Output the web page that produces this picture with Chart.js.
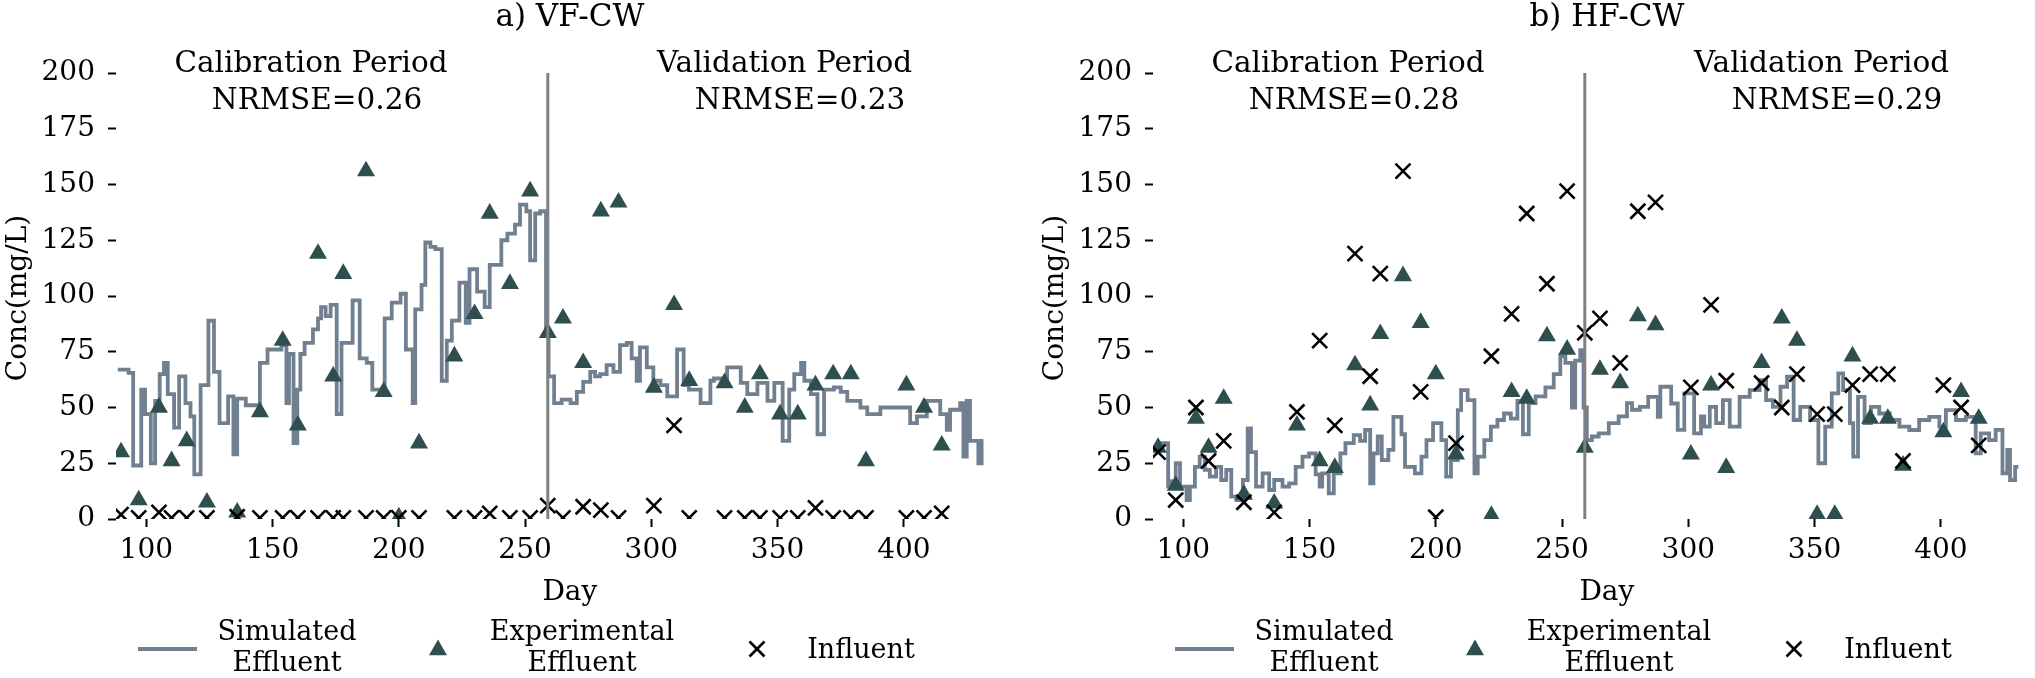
<!DOCTYPE html>
<html><head><meta charset="utf-8">
<script src="https://cdn.jsdelivr.net/npm/chart.js@4.4.1/dist/chart.umd.min.js"></script>
<style>
html,body{margin:0;padding:0;background:#fff;overflow:hidden;width:2035px;height:678px;}
canvas{position:absolute;top:0;}
#c1{left:0}
#c2{left:1037px}
</style></head><body>
<canvas id="c1" width="1037" height="678"></canvas>
<canvas id="c2" width="1037" height="678"></canvas>
<script>
// ---------------- data ----------------
const sampleDays = [90,97,105,110,116,124,136,145,154,160,168,174,178,187,194,200,208,222,230,236,244,252,259,265,273,280,287,301,309,315,329,337,343,351,358,365,372,379,385,401,408,415];
const vfInfluent = [2,0.5,3,0.5,0.5,0.5,1,0.5,0.5,0.5,0.5,0.5,0.5,0.5,0.5,0.5,0.5,0.5,0.5,2.5,0.5,0.5,6,0.5,5.5,4,0.5,6,42,0.5,0.5,0.5,0.5,0.5,0.5,5,0.5,0.5,0.5,0.5,0.5,2.5];
const vfEffluent = [30,8.5,50,26,35,7.5,3,48,80,42,119,64,110,156,57,0.8,34,73,92,137,105.5,147,83.5,90,70,138,142,59,96,62,61,50,65,47,47,60,65,65,26,60,50,33];
const hfInfluent = [30,8.5,50,26,35,7.5,3,48,80,42,119,64,110,156,57,0.8,34,73,92,137,105.5,147,83.5,90,70,138,142,59,96,62,61,50,65,47,47,60,65,65,26,60,50,33];
const hfEffluent = [32,15,45,32,54,11,7,42,26,23,69,51,83,109,88,65,29,1.5,57,54,82,76,32,67,61,91,87,29,60,23,70,90,80,2,2,73,45,45,24,39,57,45];

const vfSimDays = [88.7,93,94.8,98,99.5,101.8,103.5,105.3,107,108.5,111,113,115.5,117.5,119,121.5,124.6,126.8,129,132.4,134.5,136,139.4,145,148,153.5,155.5,156.5,158.3,159.8,161,162.7,166,168,169.2,171,173,175.4,177.3,181.7,184.5,187.3,189.5,194.4,197.2,200.7,202.8,205.5,206.5,209,210.5,212.5,214.5,217,219,221,224,226.5,228,231,234,236,240.6,243,246,248,250.5,252,254,256,258.3,259.3,261.5,264.5,268,270.5,273,275.8,277.7,279.7,282.3,285,287.6,290.3,292.2,294.2,295.5,298.2,300.8,303.6,306.3,310.2,312.8,314.9,319.5,323.4,324.8,330,335.4,338,342,346,348.7,352,354.6,356.6,359.3,360.6,363.2,365.8,368.4,372.3,375,377.6,382.8,385.5,390.7,402.5,405.2,409.1,414.4,417,418.3,422.3,423.6,424.9,426.2,429.5,430.8,431.5];
const vfSimValues = [67,65.5,24,58,47,25,53,65,70,56,41,64,52,46,20,60,89,66,43,55,29,54,51,70,76,78,52,74,34,58,74,79,85,90,95,91,96,47,79,98,72,70,58,90,97,101,76,52,94,105,124,122,121,62,80,89,106,88,112,102,95,114,125,128,132,141,138,116,137,138,83,64,52,53.5,52,57,61.5,66,64,65,69,66,78,79,72,62,77,68,62,60,55,76,60,58,52,62,63,68,61,56,61,53,61,35,58,65,70,62,56,38,58,59,57,53,50,47,50,43,46,53,47,40,49,52,28,53,35,25,35,35];

const hfSimDays = [89.5,94,95,97,98.7,101.3,102.6,104.6,106.5,108.5,110.5,113,115,117,119,121,123.6,125.5,126.8,128.8,131.4,134,136,139.3,141.9,144.5,147.2,149.8,152.4,154,155,157.6,159.6,162.2,164.2,167.5,170,172,174,175.3,177,178.6,181.2,183.2,186.4,187.8,191.7,194.3,196.3,198.9,202.2,204.1,206,208.7,210,212.6,215.3,216.6,219.2,221.8,224.4,227,229.7,232.3,234.5,236.8,239.5,243.4,246.7,249.3,251.3,253.9,255.2,257.2,258.5,259.8,261.8,264.5,268.5,272.4,275.7,277.7,280.8,284.1,287.9,288.9,293.2,295.8,298.4,302.3,305,306.3,308.5,311,313.7,316.4,320.3,324.3,328.2,330.8,333.5,336.5,339.1,341.7,344.3,348.2,351.5,354.2,356.8,359.4,361.3,364,365.3,367.2,369.8,372.3,375.6,379.7,383.6,387.5,391.4,395.4,399.4,402,406,409.9,413.8,415.8,419.1,421.7,424.4,426.3,427.4,429.4,430.7];
const hfSimValues = [34,14.5,17,25,14.5,8.5,14.5,23.4,28,22,19,23.4,17.5,22,10,8.5,17.5,40.6,30,14.5,20.5,13,17.5,14.5,16,23.4,28,29.4,20,14.5,20.5,11.5,20.5,29.4,34,37.6,35,40,16,29.4,37,26.4,31,45.8,38,23.4,20.5,28,35.4,43,35.4,19,26.4,48.8,57.8,53.3,20.5,28,35.4,41.4,44.4,47.3,45,53,38,52,55,59,65,73,70,50,71,75.7,50,35.4,37,38.4,43,46,52,49,50.3,54.8,45.8,59.3,51.8,40,56.3,38.4,46,41.4,50.3,43,53.3,41.4,54.8,57.8,62.3,53.3,50.3,59.3,63.8,44.4,50.3,44.4,25,41.4,56.3,65.3,57.8,43,28,54.8,43,50.3,47.3,44.4,41.4,39.9,44.4,45.8,41.4,48.8,44.4,45.8,29.4,38.4,35.4,40,20.5,31,17.5,23.4,23.4];

const xTickValues = [100,150,200,250,300,350,400];
const yTickValues = [0,25,50,75,100,125,150,175,200];
const splitDay = 259;
const panelTitles = ['a) VF-CW', 'b) HF-CW'];
const periodNames = ['Calibration Period', 'Validation Period'];
const nrmseVF = [0.26, 0.23];
const nrmseHF = [0.28, 0.29];
const legendLabels = [['Simulated','Effluent'], ['Experimental','Effluent'], ['Influent']];

// ---------------- styles ----------------
const SIM_COLOR = '#708090';
const TRI_COLOR = '#2F4F4F';
const X_COLOR = '#000000';
const VLINE_COLOR = '#808080';
const FONT = '"DejaVu Serif"';
const SIM_WIDTH = 3.8;
const TRI_R = 10.4;
const X_R = 10.6;

Chart.defaults.font.family = FONT;
Chart.defaults.color = '#000';

function pts(xs, ys) { return xs.map((x, i) => ({x: x, y: ys[i]})); }

const panelText = {
  id: 'panelText',
  afterDraw(chart, args, o) {
    const ctx = chart.ctx, a = chart.chartArea;
    const L = a.left, cx = (a.left + a.right) / 2;
    ctx.save();
    ctx.fillStyle = '#000';
    ctx.textAlign = 'center';
    ctx.textBaseline = 'alphabetic';
    ctx.font = '31px ' + FONT;
    ctx.fillText(o.title, cx, 26);
    ctx.font = '29.5px ' + FONT;
    ctx.fillText(periodNames[0], L + 195, 72);
    ctx.fillText('NRMSE=' + o.nrmse[0].toFixed(2), L + 201, 109);
    ctx.fillText(periodNames[1], L + 668.5, 72);
    ctx.fillText('NRMSE=' + o.nrmse[1].toFixed(2), L + 684, 109);
    ctx.font = '28px ' + FONT;
    ctx.fillText('Day', cx, 600);
    ctx.save();
    ctx.translate(L - 90, (a.top + a.bottom) / 2 + 2);
    ctx.rotate(-Math.PI / 2);
    ctx.fillText('Conc(mg/L)', 0, 0);
    ctx.restore();
    // legend
    const ly = 649;
    ctx.strokeStyle = SIM_COLOR; ctx.lineWidth = SIM_WIDTH;
    ctx.beginPath(); ctx.moveTo(L + 22, ly); ctx.lineTo(L + 81, ly); ctx.stroke();
    ctx.font = '27px ' + FONT;
    ctx.fillText(legendLabels[0][0], L + 171, 640);
    ctx.fillText(legendLabels[0][1], L + 171, 671);
    // triangle
    const r = TRI_R, tx = L + 322, ty = ly + 1;
    ctx.fillStyle = TRI_COLOR;
    ctx.beginPath();
    ctx.moveTo(tx, ty - r);
    ctx.lineTo(tx + r * Math.sin(2 * Math.PI / 3), ty - r * Math.cos(2 * Math.PI / 3));
    ctx.lineTo(tx + r * Math.sin(4 * Math.PI / 3), ty - r * Math.cos(4 * Math.PI / 3));
    ctx.closePath(); ctx.fill();
    ctx.fillStyle = '#000';
    ctx.fillText(legendLabels[1][0], L + 466, 640);
    ctx.fillText(legendLabels[1][1], L + 466, 671);
    // cross
    const h = X_R * Math.SQRT1_2, xx = L + 641;
    ctx.strokeStyle = X_COLOR; ctx.lineWidth = 2.6;
    ctx.beginPath();
    ctx.moveTo(xx - h, ly - h); ctx.lineTo(xx + h, ly + h);
    ctx.moveTo(xx + h, ly - h); ctx.lineTo(xx - h, ly + h);
    ctx.stroke();
    ctx.fillText(legendLabels[2][0], L + 745, 658);
    ctx.restore();
  }
};

function makeChart(id, simDays, simValues, effluent, influent, title, nrmse) {
  return new Chart(document.getElementById(id), {
    type: 'scatter',
    data: {
      datasets: [
        { type: 'line', data: [{x: splitDay, y: yTickValues[0]}, {x: splitDay, y: yTickValues[yTickValues.length - 1]}],
          borderColor: VLINE_COLOR, borderWidth: 3, pointRadius: 0, order: 0, clip: 0 },
        { type: 'scatter', data: pts(sampleDays, influent), pointStyle: 'crossRot', pointRadius: X_R,
          borderColor: X_COLOR, backgroundColor: X_COLOR, pointBorderWidth: 2.6, order: 1, clip: 0 },
        { type: 'scatter', data: pts(sampleDays, effluent), pointStyle: 'triangle', pointRadius: TRI_R,
          backgroundColor: TRI_COLOR, borderColor: TRI_COLOR, pointBorderWidth: 0, order: 2, clip: 0 },
        { type: 'line', data: pts(simDays, simValues), stepped: true, borderColor: SIM_COLOR, borderWidth: SIM_WIDTH,
          pointRadius: 0, fill: false, order: 3, clip: 0 }
      ]
    },
    options: {
      responsive: false, animation: false, devicePixelRatio: 1,
      layout: { padding: { top: 73, left: 0, right: 7, bottom: 0 } },
      plugins: { legend: { display: false }, tooltip: { enabled: false }, title: { display: false },
        panelText: { title: title, nrmse: nrmse } },
      scales: {
        x: { type: 'linear', min: 88, max: 447.5,
          afterBuildTicks: s => { s.ticks = xTickValues.map(v => ({value: v})); },
          afterFit: s => { s.height = 159; },
          border: { display: false },
          grid: { drawOnChartArea: false, drawTicks: true, tickLength: 8, tickWidth: 2, tickColor: '#000' },
          ticks: { font: { size: 28 }, color: '#000', padding: 7, maxRotation: 0, autoSkip: false } },
        y: { type: 'linear', min: 0, max: 200,
          afterBuildTicks: s => { s.ticks = yTickValues.map(v => ({value: v})); },
          afterFit: s => { s.width = 116; },
          border: { display: false },
          grid: { drawOnChartArea: false, drawTicks: true, tickLength: 8, tickWidth: 2, tickColor: '#000' },
          ticks: { font: { size: 28 }, color: '#000', padding: 13 } }
      }
    },
    plugins: [panelText]
  });
}

makeChart('c1', vfSimDays, vfSimValues, vfEffluent, vfInfluent, panelTitles[0], nrmseVF);
makeChart('c2', hfSimDays, hfSimValues, hfEffluent, hfInfluent, panelTitles[1], nrmseHF);
</script>
</body></html>
